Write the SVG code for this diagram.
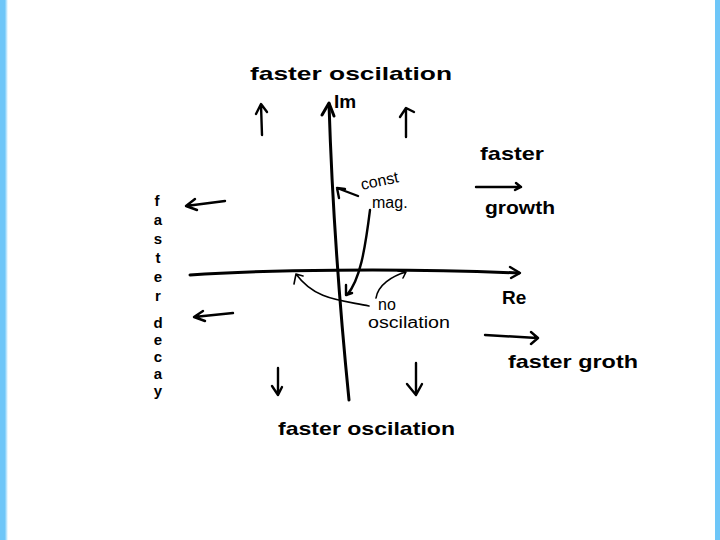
<svg xmlns="http://www.w3.org/2000/svg" width="720" height="540" viewBox="0 0 720 540">
<style>
.ink{fill:none;stroke:#000;stroke-width:2.4;stroke-linecap:round;stroke-linejoin:round}
.axis{stroke-width:3}
.thin{stroke-width:1.6}
.t{font-family:"Liberation Sans","DejaVu Sans",sans-serif;font-size:19px;fill:#000;font-weight:bold}
.s{font-size:16px;font-weight:normal}
.v{font-size:15px}
</style>
<defs>
<linearGradient id="lb" x1="0" x2="1" y1="0" y2="0">
<stop offset="0" stop-color="#6ec6f8"/><stop offset="0.6" stop-color="#6ec6f8"/><stop offset="1" stop-color="#6ec6f8" stop-opacity="0"/>
</linearGradient>
</defs>
<rect width="720" height="540" fill="#fff"/>
<rect x="0" y="0" width="8" height="540" fill="url(#lb)"/>
<rect x="715" y="0" width="5" height="540" fill="#6ec6f8"/>

<g id="connectors">
<path class="ink axis" d="M329 104 C332 200 337 280 349 400"/>
<path class="ink axis" d="M322 115 L329 103 L334 116"/>
<path class="ink axis" d="M190 275 C260 270 400 268 519 273"/>
<path class="ink" d="M510 267 L520 273 L511 278"/>
<path class="ink" d="M262 135 L261 105 M256 114 L261 104 L267 112"/>
<path class="ink" d="M406 137 L406 110 M400 117 L406 108 L414 112"/>
<path class="ink" d="M278 368 L278 395 M272 386 L278 395 L282 387"/>
<path class="ink" d="M416 363 L416 394 M407 384 L416 395 L422 384"/>
<path class="ink" d="M225 201 L186 206 M195 199 L186 206 L197 210"/>
<path class="ink" d="M233 313 L194 317 M203 311 L194 317 L205 321"/>
<path class="ink" d="M476 187 L521 187 M516 183 L521 187 L515 190"/>
<path class="ink" d="M485 335 L537 338 M531 332 L538 338 L531 344"/>
<path class="ink" d="M358 196 L337 188 M339 198 L337 188 L345 189"/>
<path class="ink" d="M370 210 C365 250 360 280 347 295 M346 285 L346 295 L352 293"/>
<path class="ink thin" d="M369 306 C340 300 315 300 296 274 M294 284 L296 274 L303 276"/>
<path class="ink thin" d="M376 298 C378 285 392 276 406 272 M398 271 L406 272 L403 278"/>
</g>

<g id="label-im"><text class="t" x="334" y="108">Im</text></g>
<g id="label-re"><text class="t" x="502" y="304">Re</text></g>
<g id="top-faster"><text class="t" x="250" y="80" textLength="202" lengthAdjust="spacingAndGlyphs">faster oscilation</text></g>
<g id="bottom-faster"><text class="t" x="278" y="435" textLength="177" lengthAdjust="spacingAndGlyphs">faster oscilation</text></g>
<g id="faster-growth-top">
<text class="t" x="480" y="160" textLength="64" lengthAdjust="spacingAndGlyphs">faster</text>
<text class="t" x="485" y="214" textLength="70" lengthAdjust="spacingAndGlyphs">growth</text>
</g>
<g id="faster-groth"><text class="t" x="508" y="368" textLength="130" lengthAdjust="spacingAndGlyphs">faster groth</text></g>
<g id="const-mag">
<text class="t s" x="362" y="190" transform="rotate(-12 362 190)">const</text>
<text class="t s" x="372" y="208">mag.</text>
</g>
<g id="no-osc">
<text class="t s" x="378" y="310">no</text>
<text class="t s" x="368" y="328" textLength="82" lengthAdjust="spacingAndGlyphs">oscilation</text>
</g>
<g id="faster-decay">
<text class="t v" text-anchor="middle"><tspan x="157" y="206">f</tspan><tspan x="158" y="225">a</tspan><tspan x="158" y="244">s</tspan><tspan x="158" y="263">t</tspan><tspan x="158" y="282">e</tspan><tspan x="158" y="301">r</tspan><tspan x="158" y="328">d</tspan><tspan x="158" y="345">e</tspan><tspan x="158" y="362">c</tspan><tspan x="158" y="379">a</tspan><tspan x="158" y="396">y</tspan></text>
</g>
</svg>
